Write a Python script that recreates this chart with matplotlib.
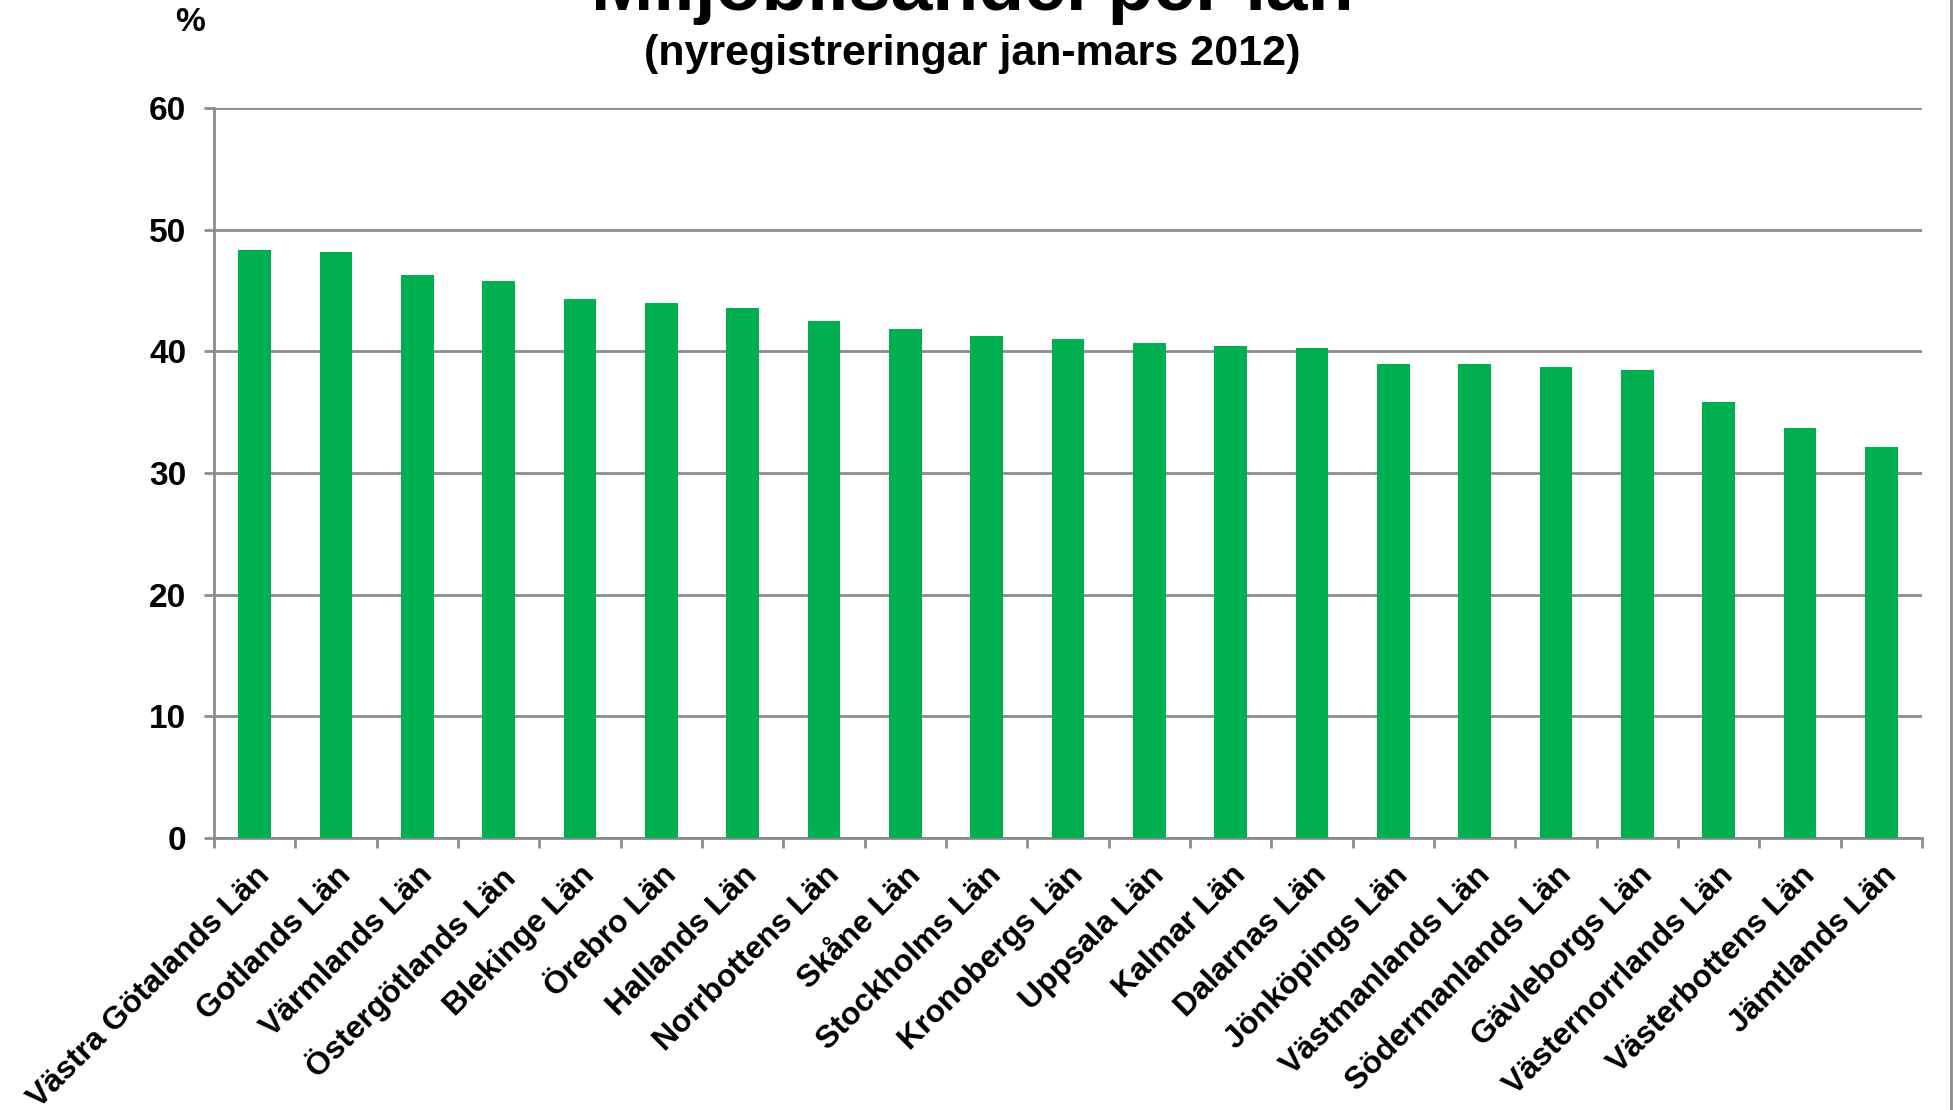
import numpy as np
import matplotlib
matplotlib.use("Agg")
import matplotlib.pyplot as plt
import matplotlib.transforms as mtransforms
from matplotlib.ticker import FixedLocator

plt.rcParams["font.family"] = ["Liberation Sans", "DejaVu Sans"]
plt.rcParams["font.weight"] = "bold"

lan = [
    "Västra Götalands Län",
    "Gotlands Län",
    "Värmlands Län",
    "Östergötlands Län",
    "Blekinge Län",
    "Örebro Län",
    "Hallands Län",
    "Norrbottens Län",
    "Skåne Län",
    "Stockholms Län",
    "Kronobergs Län",
    "Uppsala Län",
    "Kalmar Län",
    "Dalarnas Län",
    "Jönköpings Län",
    "Västmanlands Län",
    "Södermanlands Län",
    "Gävleborgs Län",
    "Västernorrlands Län",
    "Västerbottens Län",
    "Jämtlands Län",
]
andel = [
    48.3, 48.2, 46.3, 45.8, 44.3, 44.0, 43.6, 42.5, 41.8, 41.3, 41.0,
    40.7, 40.4, 40.3, 39.0, 39.0, 38.7, 38.5, 35.8, 33.7, 32.1,
]
yticks = [0, 10, 20, 30, 40, 50, 60]

grey = "#8c8c8c"

fig = plt.figure(figsize=(19.53, 11.1), dpi=100)
ax = fig.add_axes([214 / 1953, 1 - 838 / 1110, (1922 - 214) / 1953, (838 - 108) / 1110])

x = np.arange(len(lan))
ax.bar(x, andel, width=0.4, color="#00B050", zorder=3)

ax.set_xlim(-0.5, len(lan) - 0.5)
ax.set_ylim(0, 60)
ax.set_yticks(yticks)
ax.yaxis.grid(True, color=grey, linewidth=2, zorder=0)
ax.set_axisbelow(True)

for s in ["top", "right"]:
    ax.spines[s].set_visible(False)
for s in ["left", "bottom"]:
    ax.spines[s].set_color(grey)
    ax.spines[s].set_linewidth(2)

# category labels at centres, tick marks at the boundaries
ax.set_xticks(x)
ax.set_xticklabels(lan, rotation=45, ha="right", va="top", rotation_mode="anchor",
                   fontsize=23, fontweight="bold")
shift = mtransforms.ScaledTranslation(-6 / 100, 0, fig.dpi_scale_trans)
for t in ax.get_xticklabels():
    t.set_transform(t.get_transform() + shift)
ax.xaxis.set_minor_locator(FixedLocator(np.arange(len(lan) + 1) - 0.5))
ax.tick_params(axis="x", which="major", length=0, pad=16)
ax.tick_params(axis="x", which="minor", length=7, width=2, color=grey, direction="out")
ax.tick_params(axis="y", length=7, width=2, color=grey, labelsize=24, pad=13)
for t in ax.get_yticklabels():
    t.set_fontweight("bold")

fig.text(972 / 1953, 1 - 10 / 1110, "Miljöbilsandel per län", ha="center", va="baseline",
         fontsize=54, fontweight="bold")
fig.text(972 / 1953, 1 - 65 / 1110, "(nyregistreringar jan-mars 2012)", ha="center",
         va="baseline", fontsize=31, fontweight="bold")
fig.text(190 / 1953, 1 - 31 / 1110, "%", ha="center", va="baseline", fontsize=24,
         fontweight="bold")

# thin border at the right edge of the picture
fig.add_artist(plt.Line2D([1951 / 1953, 1951 / 1953], [0, 1], color=grey, linewidth=2,
                          transform=fig.transFigure))

fig.savefig("out.png", dpi=100)
